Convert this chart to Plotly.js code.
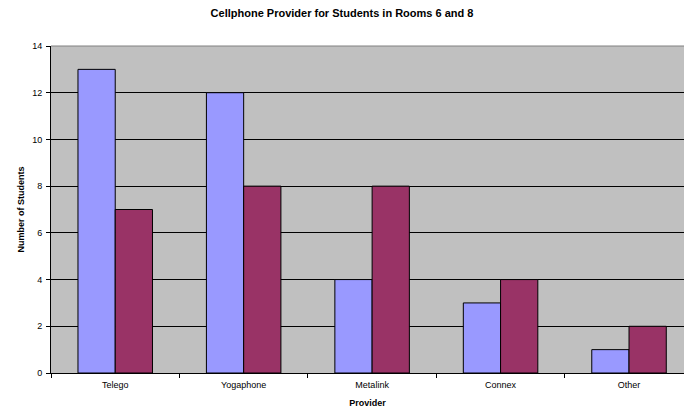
<!DOCTYPE html>
<html>
<head>
<meta charset="utf-8">
<script src="https://cdn.plot.ly/plotly-3.0.1.min.js"></script>
<style>html,body{margin:0;padding:0;background:#fff;}#chart{width:684px;height:408px;}</style>
</head>
<body>
<div id="chart"></div>
<script>
const providers = ["Telego", "Yogaphone", "Metalink", "Connex", "Other"];
const room6 = [13, 12, 4, 3, 1];
const room8 = [7, 8, 8, 4, 2];
const yTicks = [0, 2, 4, 6, 8, 10, 12, 14];

const traces = [
  {type: "bar", name: "Room 6", x: providers, y: room6,
   marker: {color: "#9999ff", line: {color: "#000000", width: 1}}},
  {type: "bar", name: "Room 8", x: providers, y: room8,
   marker: {color: "#993366", line: {color: "#000000", width: 1}}}
];

const layout = {
  width: 684, height: 408,
  margin: {l: 51, r: 0, t: 46, b: 35},
  paper_bgcolor: "#ffffff",
  plot_bgcolor: "#c0c0c0",
  showlegend: false,
  barmode: "group",
  bargap: 0.42,
  bargroupgap: 0,
  font: {family: "Arial, Liberation Sans, sans-serif", color: "#000000", size: 9},
  title: {text: "<b>Cellphone Provider for Students in Rooms 6 and 8</b>",
          font: {size: 11, color: "#000000"}, x: 0.5, xanchor: "center", y: 0.967, yanchor: "middle"},
  xaxis: {
    type: "category",
    range: [-0.5, 4.428],
    tickson: "boundaries",
    ticks: "outside", ticklen: 4, tickcolor: "#000000",
    ticklabelstandoff: 3,
    showline: true, linecolor: "#000000", linewidth: 1,
    showgrid: false, zeroline: false,
    tickfont: {size: 9},
    title: {text: "<b>Provider</b>", font: {size: 9}, standoff: 12}
  },
  yaxis: {
    range: [0, 14],
    tickvals: yTicks,
    ticktext: yTicks.map(String),
    ticks: "outside", ticklen: 4, tickcolor: "#000000",
    ticklabelstandoff: 2,
    showline: true, linecolor: "#000000", linewidth: 1,
    showgrid: true, gridcolor: "#000000", gridwidth: 1,
    zeroline: false,
    tickfont: {size: 9},
    title: {text: "<b>Number of Students</b>", font: {size: 9}, standoff: 6}
  },
  shapes: [
    {type: "line", xref: "paper", yref: "paper", x0: 0, x1: 1, y0: 1, y1: 1,
     line: {color: "#808080", width: 1}}
  ]
};

Plotly.newPlot("chart", traces, layout, {displayModeBar: false, staticPlot: true});
</script>
</body>
</html>
